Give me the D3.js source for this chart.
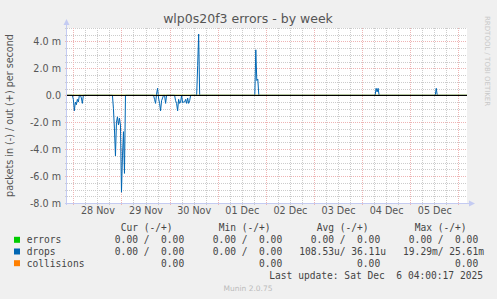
<!DOCTYPE html>
<html>
<head>
<meta charset="utf-8">
<script src="https://cdn.jsdelivr.net/npm/d3@7"></script>
<style>
  body { margin: 0; background: #f0f0f0; }
  text { font-family: "DejaVu Sans", sans-serif; }
  .mono { font-family: "DejaVu Sans Mono", monospace; white-space: pre; }
</style>
</head>
<body>
<div id="chart"></div>
<script>
// drops: in (-) / out (+), in milli-packets per second, 30 min steps
const dropTimes = [
  "2025-11-27 20:50",
  "2025-11-27 23:30", "2025-11-28 00:00", "2025-11-28 00:30", "2025-11-28 01:00", "2025-11-28 01:30",
  "2025-11-28 02:00", "2025-11-28 02:30", "2025-11-28 03:00", "2025-11-28 03:30", "2025-11-28 04:00",
  "2025-11-28 04:30", "2025-11-28 05:00",
  "2025-11-28 19:30", "2025-11-28 20:00", "2025-11-28 20:30", "2025-11-28 21:00", "2025-11-28 21:30",
  "2025-11-28 22:00", "2025-11-28 22:30", "2025-11-28 23:00", "2025-11-28 23:30", "2025-11-29 00:00",
  "2025-11-29 00:30", "2025-11-29 01:00", "2025-11-29 01:30", "2025-11-29 02:00",
  "2025-11-29 16:00", "2025-11-29 16:30", "2025-11-29 17:00", "2025-11-29 17:30", "2025-11-29 18:00",
  "2025-11-29 18:30", "2025-11-29 19:00", "2025-11-29 19:30", "2025-11-29 20:00", "2025-11-29 20:30",
  "2025-11-29 21:00", "2025-11-29 21:30", "2025-11-29 22:00", "2025-11-29 22:30",
  "2025-11-30 02:30", "2025-11-30 03:00", "2025-11-30 03:30", "2025-11-30 04:00", "2025-11-30 04:30",
  "2025-11-30 05:00", "2025-11-30 05:30", "2025-11-30 06:00", "2025-11-30 06:30", "2025-11-30 07:00",
  "2025-11-30 07:30", "2025-11-30 08:00", "2025-11-30 08:30", "2025-11-30 09:00", "2025-11-30 09:30",
  "2025-11-30 10:00", "2025-11-30 10:30",
  "2025-11-30 13:30", "2025-11-30 14:00", "2025-11-30 14:30", "2025-11-30 15:00",
  "2025-12-01 18:30", "2025-12-01 19:00", "2025-12-01 19:30", "2025-12-01 20:00", "2025-12-01 20:30",
  "2025-12-04 06:30", "2025-12-04 07:00", "2025-12-04 07:30", "2025-12-04 08:00", "2025-12-04 08:30",
  "2025-12-05 12:30", "2025-12-05 13:00", "2025-12-05 13:30",
  "2025-12-06 04:20"
];
const dropValues = [
  0,
  0, -0.3, -1.15, -0.5, -0.7,
  -0.3, -0.5, 0, 0, -0.2,
  -0.6, 0,
  0, -1.0, -2.5, -4.5, -2.0,
  -1.6, -2.2, -1.7, -2.2, -7.2,
  -4.5, -2.7, -5.8, 0,
  0, -0.3, -0.6, 0.1, 0.52,
  -0.2, -0.6, -1.15, -0.4, -0.2,
  0, 0, -0.6, 0,
  0, -0.4, -0.6, -1.15, -0.3,
  -0.6, -0.5, 0, -0.55, -0.5,
  -0.5, -0.3, -0.6, -0.2, -0.6,
  -0.4, 0,
  0, 2.2, 4.55, 0,
  0, 3.38, 1.1, 1.2, 0,
  0, 0.52, 0.25, 0.52, 0,
  0, 0.52, 0,
  0
];
const errorValues = [0, 0];
const collisionValues = [0, 0];

const dayTicks = ["2025-11-28", "2025-11-29", "2025-11-30", "2025-12-01",
                  "2025-12-02", "2025-12-03", "2025-12-04", "2025-12-05"];
const yTicks = [-8, -6, -4, -2, 0, 2, 4];
const yTickLabels = ["-8.0 m", "-6.0 m", "-4.0 m", "-2.0 m", "0.0", "2.0 m", "4.0 m"];

const seriesNames = ["errors", "drops", "collisions"];
const seriesColors = ["#00cc00", "#0066b3", "#ff8000"];
const curValues = ["  0.00 /  0.00 ", "  0.00 /  0.00 ", "          0.00 "];
const minValues = ["  0.00 /  0.00 ", "  0.00 /  0.00 ", "          0.00 "];
const avgValues = ["  0.00 /  0.00 ", "108.53u/ 36.11u", "          0.00 "];
const maxValues = ["  0.00 /  0.00 ", " 19.29m/ 25.61m", "          0.00 "];

const W = 497, H = 299;
const PLOT = { LEFT: 67, TOP: 28, WIDTH: 400, HEIGHT: 175 };

const parseTime = d3.timeParse("%Y-%m-%d %H:%M");
const parseDay = d3.timeParse("%Y-%m-%d");
const start = parseTime(dropTimes[0]);
const end = parseTime(dropTimes[dropTimes.length - 1]);

const svg = d3.select("#chart").append("svg")
    .attr("width", W)
    .attr("height", H)

svg.append("rect").attr("width", W).attr("height", H).attr("fill", "#f0f0f0")
svg.append("rect")
    .attr("x", PLOT.LEFT).attr("y", PLOT.TOP)
    .attr("width", PLOT.WIDTH).attr("height", PLOT.HEIGHT)
    .attr("fill", "#ffffff")

const x = d3.scaleTime()
    .domain([start, end])
    .range([PLOT.LEFT, PLOT.LEFT + PLOT.WIDTH])

const y = d3.scaleLinear()
    .domain([-8, 5])
    .range([PLOT.TOP + PLOT.HEIGHT, PLOT.TOP])

const px = v => Math.round(v) + 0.5
const bottom = PLOT.TOP + PLOT.HEIGHT

//minor grid: every 6 hours and every 0.5 m
const grid = svg.append("g").attr("stroke-dasharray", "1,1").attr("stroke-width", 1)
x.ticks(d3.timeHour.every(6)).filter(t => t.getHours() !== 0).forEach(t => {
    grid.append("line")
        .attr("x1", px(x(t))).attr("x2", px(x(t)))
        .attr("y1", PLOT.TOP).attr("y2", bottom + 2)
        .attr("stroke", "#cccccc")
})
d3.range(-16, 11).map(d => d / 2).filter(v => v % 2 !== 0).forEach(v => {
    grid.append("line")
        .attr("x1", PLOT.LEFT - 2).attr("x2", PLOT.LEFT + PLOT.WIDTH)
        .attr("y1", px(y(v))).attr("y2", px(y(v)))
        .attr("stroke", "#cccccc")
})
//major grid: midnight and every 2.0 m
x.ticks(d3.timeDay.every(1)).forEach(t => {
    grid.append("line")
        .attr("x1", px(x(t))).attr("x2", px(x(t)))
        .attr("y1", PLOT.TOP).attr("y2", bottom + 2)
        .attr("stroke", "#eeb4b4")
})
yTicks.forEach(v => {
    grid.append("line")
        .attr("x1", PLOT.LEFT - 2).attr("x2", PLOT.LEFT + PLOT.WIDTH)
        .attr("y1", px(y(v))).attr("y2", px(y(v)))
        .attr("stroke", "#eeb4b4")
})

//axes lines with arrows
const axisColor = "#c4cbf2"
svg.append("line")
    .attr("x1", PLOT.LEFT - 0.5).attr("x2", PLOT.LEFT - 0.5)
    .attr("y1", bottom + 2).attr("y2", PLOT.TOP - 5)
    .attr("stroke", axisColor)
svg.append("path")
    .attr("d", `M${PLOT.LEFT - 3.5},${PLOT.TOP - 3} L${PLOT.LEFT - 0.5},${PLOT.TOP - 9} L${PLOT.LEFT + 2.5},${PLOT.TOP - 3} Z`)
    .attr("fill", axisColor)
svg.append("line")
    .attr("x1", PLOT.LEFT - 2).attr("x2", PLOT.LEFT + PLOT.WIDTH + 4)
    .attr("y1", bottom + 0.5).attr("y2", bottom + 0.5)
    .attr("stroke", axisColor)
svg.append("path")
    .attr("d", `M${PLOT.LEFT + PLOT.WIDTH + 2},${bottom - 2.5} L${PLOT.LEFT + PLOT.WIDTH + 8},${bottom + 0.5} L${PLOT.LEFT + PLOT.WIDTH + 2},${bottom + 3.5} Z`)
    .attr("fill", axisColor)

//series
const plot = svg.append("g")
const line = d3.line().x(d => x(d[0])).y(d => y(d[1]))
plot.append("path")
    .datum([[start, errorValues[0]], [end, errorValues[1]]])
    .attr("d", line).attr("fill", "none").attr("stroke", seriesColors[0])
plot.append("path")
    .datum(dropTimes.map((t, i) => [parseTime(t), dropValues[i]]))
    .attr("d", line).attr("fill", "none").attr("stroke", seriesColors[1]).attr("stroke-width", 1)
plot.append("path")
    .datum([[start, collisionValues[0]], [end, collisionValues[1]]])
    .attr("d", line).attr("fill", "none").attr("stroke", seriesColors[2])
//zero line
svg.append("line")
    .attr("x1", PLOT.LEFT).attr("x2", PLOT.LEFT + PLOT.WIDTH)
    .attr("y1", px(y(0))).attr("y2", px(y(0)))
    .attr("stroke", "#000000")

//y axis labels
const yAxis = svg.append("g")
    .attr("transform", "translate(" + (PLOT.LEFT - 6) + ",0)")
    .call(d3.axisLeft(y).tickValues(yTicks).tickFormat((d, i) => yTickLabels[i]).tickSize(0).tickPadding(0))
yAxis.select(".domain").remove()
yAxis.selectAll("text")
    .attr("font-family", "DejaVu Sans").attr("font-size", "9.6px").attr("fill", "#555")

//x axis labels at noon
const xAxis = svg.append("g")
    .attr("transform", "translate(0," + (bottom + 4) + ")")
    .call(d3.axisBottom(x)
        .tickValues(dayTicks.map(d => d3.timeHour.offset(parseDay(d), 12)))
        .tickFormat(d3.timeFormat("%d %b")).tickSize(0).tickPadding(0))
xAxis.select(".domain").remove()
xAxis.selectAll("text")
    .attr("font-family", "DejaVu Sans").attr("font-size", "9.6px").attr("fill", "#555")

//title and side texts
svg.append("text")
    .attr("x", 248).attr("y", 22.5)
    .attr("text-anchor", "middle")
    .attr("font-size", "12.5px").attr("fill", "#555")
    .text("wlp0s20f3 errors - by week")

svg.append("text")
    .attr("transform", "translate(12.5," + (PLOT.TOP + PLOT.HEIGHT / 2) + ") rotate(-90)")
    .attr("text-anchor", "middle")
    .attr("font-size", "9.6px").attr("fill", "#555")
    .text("packets in (-) / out (+) per second")

svg.append("text")
    .attr("transform", "translate(485,16) rotate(90)")
    .attr("font-size", "7px").attr("fill", "#c8c8c8")
    .text("RRDTOOL / TOBI OETIKER")

//legend
const CW = 9.6 * 0.602
const cols = [103.3, 201.3, 299.3, 397.3]
const headers = ["Cur (-/+)", "Min (-/+)", "Avg (-/+)", "Max (-/+)"]
const legend = svg.append("g").attr("font-size", "9.6px").attr("fill", "#444")
headers.forEach((h, i) => {
    legend.append("text").attr("class", "mono")
        .attr("x", cols[i] + 3 * CW).attr("y", 230.7).text(h)
})
const rowY = [243.3, 255, 266.7]
seriesNames.forEach((name, i) => {
    legend.append("rect")
        .attr("x", 14).attr("y", rowY[i] - 6.5)
        .attr("width", 6).attr("height", 6)
        .attr("fill", seriesColors[i])
    legend.append("text").attr("class", "mono").attr("x", 26.7).attr("y", rowY[i]).text(name)
    ;[curValues, minValues, avgValues, maxValues].forEach((vals, j) => {
        legend.append("text").attr("class", "mono")
            .attr("x", cols[j]).attr("y", rowY[i]).text(vals[i])
    })
})
legend.append("text").attr("class", "mono")
    .attr("x", 483).attr("y", 279).attr("text-anchor", "end")
    .text("Last update: Sat Dec  6 04:00:17 2025")

svg.append("text")
    .attr("x", 248).attr("y", 291)
    .attr("text-anchor", "middle")
    .attr("font-size", "7.5px").attr("fill", "#bbbbbb")
    .text("Munin 2.0.75")
</script>
</body>
</html>
